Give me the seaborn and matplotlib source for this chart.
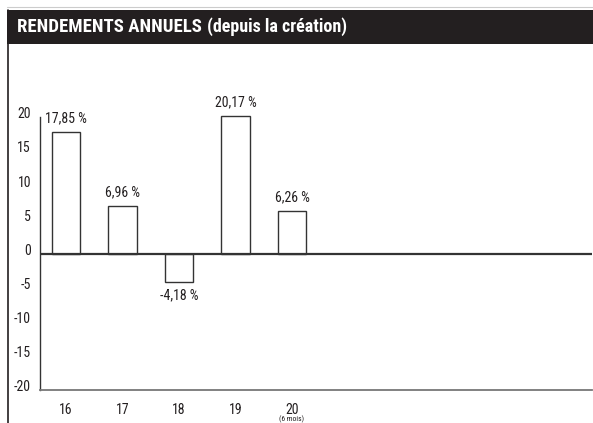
import matplotlib
matplotlib.use("Agg")
import matplotlib.pyplot as plt
import seaborn as sns
import pandas as pd
from matplotlib.patches import Rectangle
from matplotlib.lines import Line2D
from matplotlib.transforms import blended_transform_factory, ScaledTranslation
from matplotlib import font_manager as fm

years = ["16", "17", "18", "19", "20"]
returns = [17.85, 6.96, -4.18, 20.17, 6.26]
value_labels = ["17,85 %", "6,96 %", "-4,18 %", "20,17 %", "6,26 %"]
y_ticks = [20, 15, 10, 5, 0, -5, -10, -15, -20]
title_bold = "RENDEMENTS ANNUELS"
title_rest = "(depuis la création)"
note_last = "(6 mois)"

sns.set_style("white")
names = sorted({f.name for f in fm.fontManager.ttflist})
narrow = [n for n in ["Liberation Sans Narrow", "Roboto Condensed", "DejaVu Sans"] if n in names]
FONT = narrow + ["DejaVu Sans"]
plt.rcParams["font.family"] = FONT
plt.rcParams["font.stretch"] = "condensed"

fig = plt.figure(figsize=(5.93, 4.23), dpi=100)
W, H = 593, 423

def fx(px):
    return px / W

def fy(py):
    return 1 - py / H

fig.patches.append(Rectangle((fx(7), fy(44)), 1 - fx(7), fy(10) - fy(44),
                             transform=fig.transFigure, facecolor="#231f20",
                             edgecolor="none", zorder=0))
fig.lines.append(Line2D([fx(7), 1], [fy(7.5), fy(7.5)], transform=fig.transFigure,
                        color="#cccccc", lw=0.8))
fig.lines.append(Line2D([fx(7.5), fx(7.5)], [0, fy(10)], transform=fig.transFigure,
                        color="#231f20", lw=1.2))
t1 = fig.text(fx(17), fy(27), title_bold, color="white", fontsize=13.5,
              fontweight="bold", va="center", ha="left", stretch="condensed")
fig.canvas.draw()
bb = t1.get_window_extent()
fig.text(bb.x1 / fig.dpi / fig.get_figwidth() + 0.008, fy(27), title_rest,
         color="white", fontsize=13, fontweight="bold", va="center", ha="left",
         stretch="condensed")

ax = fig.add_axes([fx(40), fy(390), fx(592) - fx(40), fy(117) - fy(390)])
df = pd.DataFrame({"year": years, "ret": returns})
sns.barplot(data=df, x="year", y="ret", order=years, ax=ax, color="white",
            edgecolor="#333333", linewidth=1.0, width=0.5, saturation=1)
for p in ax.patches:
    p.set_clip_on(False)
ax.set_xlim(-0.46, 9.31)
ax.set_ylim(-20, 20)
ax.axhline(0, color="#333333", lw=1.6, zorder=3)
ax.set_yticks(y_ticks)
ax.set_yticklabels([str(v) for v in y_ticks])
ax.set_xticks(range(len(years)))
ax.set_xticklabels(years)
ax.tick_params(axis="y", length=0, pad=6.5, labelsize=10, labelcolor="#231f20")
ax.tick_params(axis="x", length=0, pad=9, labelsize=10, labelcolor="#231f20")
off = ScaledTranslation(0, 3 / 72, fig.dpi_scale_trans)
for lab in ax.get_yticklabels():
    lab.set_transform(lab.get_transform() + off)
ax.set_xlabel("")
ax.set_ylabel("")
for s in ["top", "right"]:
    ax.spines[s].set_visible(False)
ax.spines["left"].set_color("#333333")
ax.spines["left"].set_linewidth(1.0)
ax.spines["bottom"].set_color("#777777")
ax.spines["bottom"].set_linewidth(1.3)

for i, (v, lab) in enumerate(zip(returns, value_labels)):
    if v >= 0:
        ax.text(i, v + 1.0, lab, ha="center", va="bottom", fontsize=10, color="#231f20")
    else:
        ax.text(i, v - 0.9, lab, ha="center", va="top", fontsize=10, color="#231f20")

trans = blended_transform_factory(ax.transData, fig.transFigure)
ax.text(4, fy(419), note_last, transform=trans, ha="center", va="center",
        fontsize=5.5, color="#231f20")

fig.savefig("out.png", dpi=100)
